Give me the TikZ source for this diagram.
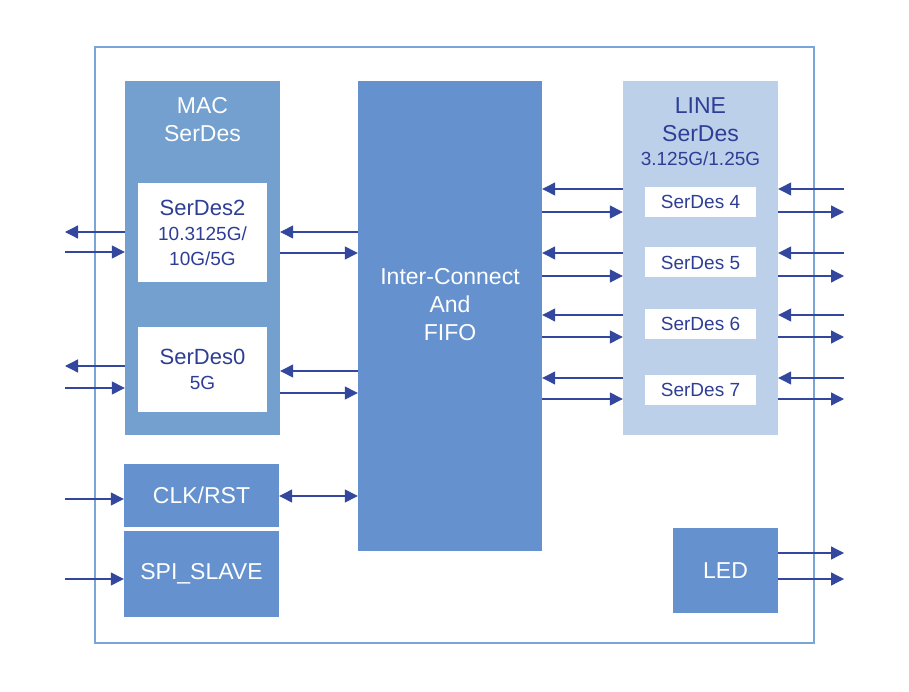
\documentclass[tikz,border=0pt]{standalone}
\usepackage{fontspec}
\setmainfont{Liberation Sans}
\usetikzlibrary{arrows.meta, calc}
\definecolor{frameBlue}{HTML}{7BA5D8}
\definecolor{macBlue}{HTML}{73A0CE}
\definecolor{icBlue}{HTML}{6592CE}
\definecolor{lineBlue}{HTML}{BCD0EA}
\definecolor{textBlue}{HTML}{2E3E95}
\definecolor{arrowBlue}{HTML}{33479E}
\newcommand{\blkfont}{\fontsize{23}{28}\selectfont}
\newcommand{\subfont}{\fontsize{19}{25}\selectfont}
\newcommand{\sdfont}{\fontsize{22}{25}\selectfont}
\tikzset{
    block/.style={rectangle, fill=icBlue, text=white, inner sep=0pt, font=\blkfont},
    serdes/.style={rectangle, fill=white, text=textBlue, inner sep=0pt, align=center, font=\subfont},
    title/.style={align=center, inner sep=0pt, font=\blkfont},
    line/.style={draw=arrowBlue, line width=1.3pt, -{Triangle[length=13pt, width=13pt]}},
    both/.style={draw=arrowBlue, line width=1.3pt, {Triangle[length=13pt, width=13pt]}-{Triangle[length=13pt, width=13pt]}}
}

\begin{document}
\begin{tikzpicture}[x=1pt, y=-1pt]
    \useasboundingbox (0,0) rectangle (909,692);

    % Chip frame
    \node [draw=frameBlue, line width=1.5pt, minimum width=719pt, minimum height=596pt] (chip) at (454.5,345) {};

    % MAC side
    \node [block, fill=macBlue, minimum width=155pt, minimum height=354pt] (mac) at (202.5,258) {};
    \node [title, text=white] (macTitle) at (202.5,120) {MAC\\SerDes};
    \node [serdes, minimum width=129pt, minimum height=99pt] (sd2) at (202.5,232.5) {{\sdfont SerDes2}\\10.3125G/\\10G/5G};
    \node [serdes, minimum width=129pt, minimum height=85pt] (sd0) at (202.5,369.5) {{\sdfont SerDes0}\\5G};

    % Centre
    \node [block, minimum width=184pt, minimum height=470pt] (ic) at (450,316) {};
    \node [title, text=white] (icTitle) at (450,304.5) {Inter-Connect\\And\\FIFO};

    % LINE side
    \node [block, fill=lineBlue, minimum width=155pt, minimum height=354pt] (line) at (700.5,258) {};
    \node [title, text=textBlue] (lineTitle) at (700.5,132) {LINE\\SerDes\\[-4pt]{\subfont 3.125G/1.25G}};
    \foreach \n/\y in {4/202, 5/262.5, 6/323.5, 7/390}
        \node [serdes, minimum width=111pt, minimum height=30pt] (sd\n) at (700.5,\y) {SerDes \n};

    % Control and LED
    \node [block, minimum width=155pt, minimum height=63pt] (clk) at (201.5,495.5) {CLK/RST};
    \node [block, minimum width=155pt, minimum height=86pt] (spi) at (201.5,574) {SPI\_SLAVE};
    \node [block, minimum width=105pt, minimum height=85pt] (led) at (725.5,570.5) {LED};

    % Free ends outside the chip
    \coordinate (westEnd) at (65,0);
    \coordinate (eastEnd) at (844,0);

    % MAC links
    \foreach \out/\in in {232/252, 366/388}{
        \draw [line] (mac.west |- 0,\out) -- (westEnd |- 0,\out);
        \draw [line] (westEnd |- 0,\in) -- (mac.west |- 0,\in);
    }
    \foreach \out/\in in {232/253, 371/393}{
        \draw [line] (ic.west |- 0,\out) -- (mac.east |- 0,\out);
        \draw [line] (mac.east |- 0,\in) -- (ic.west |- 0,\in);
    }

    % LINE links
    \foreach \out/\in in {189/212, 253/276, 315/337, 378/399}{
        \draw [line] (line.west |- 0,\out) -- (ic.east |- 0,\out);
        \draw [line] (ic.east |- 0,\in) -- (line.west |- 0,\in);
        \draw [line] (eastEnd |- 0,\out) -- (line.east |- 0,\out);
        \draw [line] (line.east |- 0,\in) -- (eastEnd |- 0,\in);
    }

    % Control links
    \draw [line] (westEnd |- 0,499) -- (clk.west |- 0,499);
    \draw [line] (westEnd |- 0,579) -- (spi.west |- 0,579);
    \draw [both] (clk.east |- 0,496) -- (ic.west |- 0,496);
    \draw [line] (led.east |- 0,553) -- (eastEnd |- 0,553);
    \draw [line] (led.east |- 0,579) -- (eastEnd |- 0,579);

\end{tikzpicture}
\end{document}
